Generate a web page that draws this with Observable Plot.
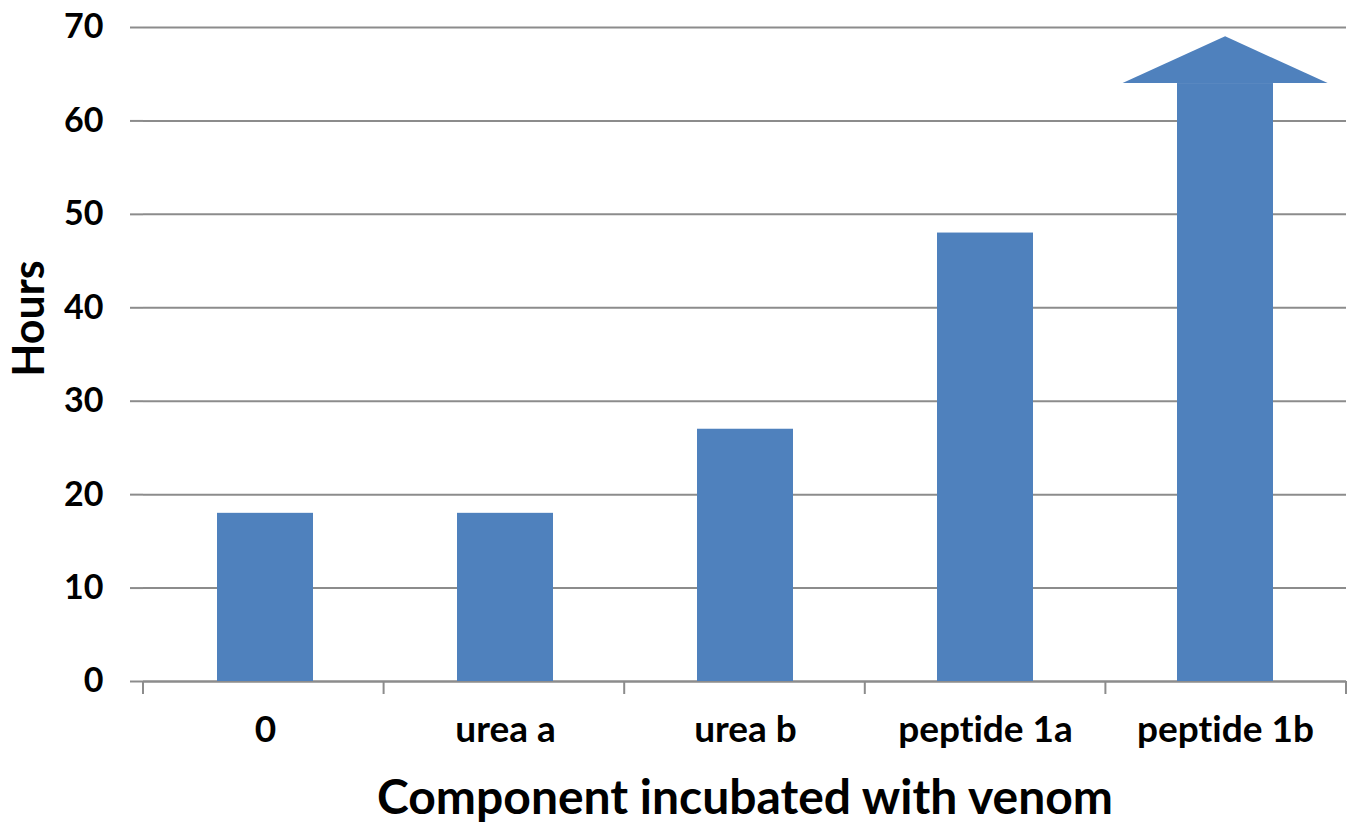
<!DOCTYPE html>
<html>
<head>
<meta charset="utf-8">
<script src="https://cdn.jsdelivr.net/npm/d3@7"></script>
<script src="https://cdn.jsdelivr.net/npm/@observablehq/plot@0.6"></script>
<style>
  html, body { margin: 0; padding: 0; background: #fff; }
  #chart svg { display: block; }
  #chart svg text { font-variant-ligatures: none; font-feature-settings: "liga" 0; }
</style>
</head>
<body>
<div id="chart"></div>
<script>
const categories = ["0", "urea a", "urea b", "peptide 1a", "peptide 1b"];
const hours = [18, 18, 27, 48, 64];
const arrowCategory = "peptide 1b";
const arrowTip = 69;
const yTicks = [0, 10, 20, 30, 40, 50, 60, 70];
const xTitle = "Component incubated with venom";
const yTitle = "Hours";

const data = categories.map((c, i) => ({category: c, hours: hours[i]}));
const arrowData = [{category: arrowCategory, base: hours[categories.indexOf(arrowCategory)], tip: arrowTip}];

const blue = "#4f81bd";
const gray = "#8c8c8c";
const font = "Lato, 'Open Sans', sans-serif";

// band-boundary ticks under the x axis
function boundaryTicks(index, scales, values, dimensions) {
  const {width, height, marginLeft, marginRight, marginBottom} = dimensions;
  const n = categories.length;
  const step = (width - marginLeft - marginRight) / n;
  const y0 = height - marginBottom;
  const g = d3.create("svg:g");
  for (let i = 0; i <= n; i++) {
    const x = marginLeft + i * step;
    g.append("line").attr("x1", x).attr("x2", x).attr("y1", y0).attr("y2", y0 + 13)
      .attr("stroke", gray).attr("stroke-width", 2);
  }
  return g.node();
}

// arrowhead on the last bar
function arrowHead(index, scales, values, dimensions) {
  const g = d3.create("svg:g");
  const x = scales.x;
  const n = categories.length;
  const step = (dimensions.width - dimensions.marginLeft - dimensions.marginRight) / n;
  for (const d of arrowData) {
    const bw = step * 0.4;
    const cx = x(d.category) + bw / 2;
    const half = step * 0.426;
    const yb = scales.y(d.base);
    const yt = scales.y(d.tip);
    g.append("path")
      .attr("d", `M${cx - half},${yb}L${cx},${yt}L${cx + half},${yb}Z`)
      .attr("fill", blue);
  }
  return g.node();
}

const chart = Plot.plot({
  width: 1355,
  height: 825,
  marginLeft: 143,
  marginRight: 9,
  marginTop: 27,
  marginBottom: 144,
  style: {fontFamily: font, fontWeight: "bold", color: "#000", background: "#fff"},
  x: {domain: categories, paddingInner: 0.6, paddingOuter: 0.3, label: null},
  y: {domain: [0, 70], label: null},
  marks: [
    Plot.gridY(yTicks, {stroke: gray, strokeOpacity: 1, strokeWidth: 2}),
    Plot.axisY(yTicks, {tickSize: 13, tickPadding: 27, stroke: gray, strokeWidth: 2, fontSize: 34, fill: "#000", label: null}),
    Plot.axisX({tickSize: 0, tickPadding: 34, fontSize: 37, fill: "#000", label: null}),
    Plot.ruleY([0], {stroke: gray, strokeWidth: 2}),
    boundaryTicks,
    Plot.barY(data, {x: "category", y: "hours", fill: blue}),
    arrowHead,
    Plot.text([xTitle], {frameAnchor: "bottom", dy: 132, fontSize: 48, fill: "#000", text: d => d}),
    Plot.text([yTitle], {frameAnchor: "left", textAnchor: "middle", dx: -113, dy: -36, rotate: -90, fontSize: 43, fill: "#000", text: d => d})
  ]
});

document.getElementById("chart").appendChild(chart);
</script>
</body>
</html>
